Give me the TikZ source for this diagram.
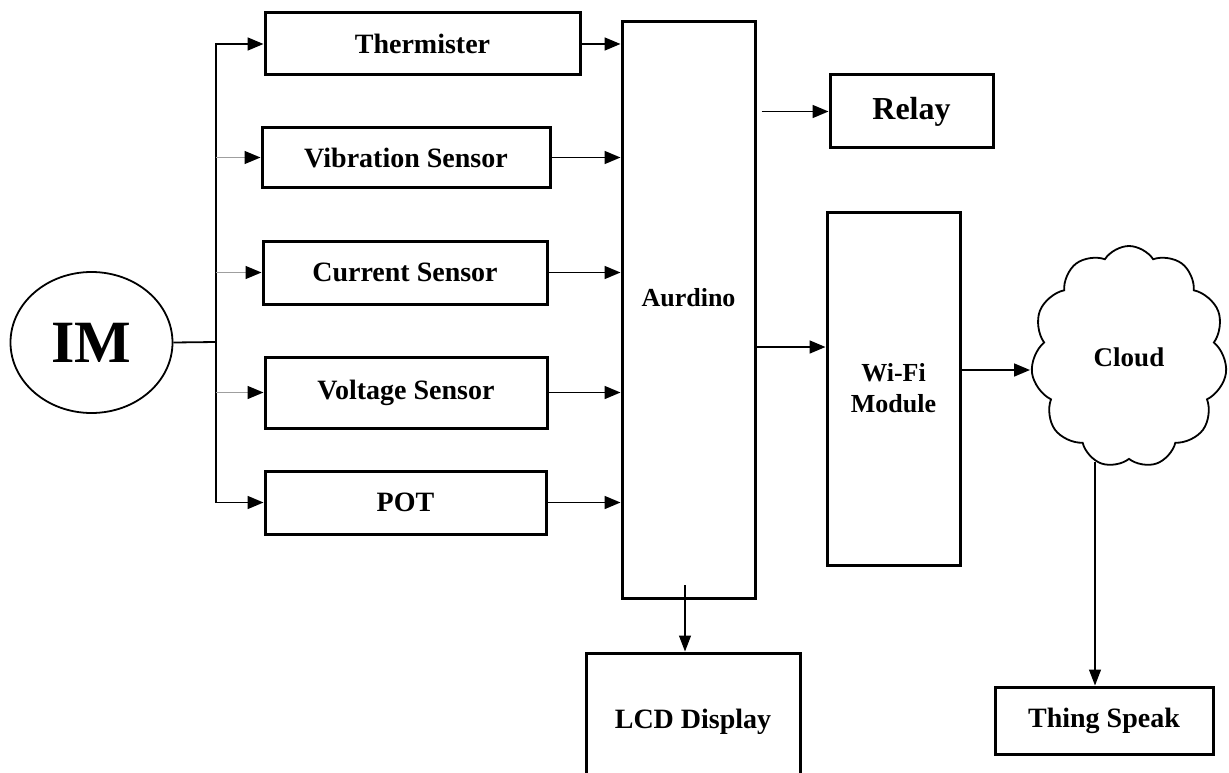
\documentclass[tikz,border=0pt]{standalone}
\usepackage{fontspec}
\setmainfont{Liberation Serif}
\usetikzlibrary{arrows.meta,shapes.symbols,shapes.geometric}
\tikzset{
    blk/.style={draw, line width=3pt, align=center, inner sep=0pt,
        font=\bfseries\fontsize{28}{31}\selectfont},
    arr/.style={-{Triangle[length=16pt,width=13pt]}, line width=1.7pt},
    thinarr/.style={-{Triangle[length=16pt,width=12pt]}, line width=1.2pt},
    branch/.style={-{Triangle[length=16pt,width=13pt,color=black]}, color=gray!75, line width=1.4pt},
}
\begin{document}
\begin{tikzpicture}[x=1pt,y=-1pt]
    \useasboundingbox (0,0) rectangle (1229,773);
    \clip (0,0) rectangle (1229,773);
    % motor
    \node[draw, ellipse, line width=1.8pt, minimum width=162pt, minimum height=141pt,
        font=\bfseries\fontsize{60}{62}\selectfont] (im) at (91.5,342.5) {IM};
    \coordinate (split) at (216,342);
    % sensors
    \node[blk, minimum width=315pt, minimum height=62pt] (therm) at (422.5,44) {Thermister};
    \node[blk, minimum width=288pt, minimum height=59pt] (vib) at (406,157.5) {Vibration Sensor};
    \node[blk, minimum width=284pt, minimum height=63pt] (curr) at (405,272.5) {Current Sensor};
    \node[blk, minimum width=282pt, minimum height=71pt] (volt) at (406,392.5) {Voltage Sensor};
    \node[blk, minimum width=281pt, minimum height=63pt] (pot) at (405.5,502.5) {POT};
    % controller and outputs
    \node[blk, minimum width=133pt, minimum height=576pt, text depth=26pt,
        font=\bfseries\fontsize{26}{30}\selectfont] (aurd) at (688.5,310) {Aurdino};
    \node[blk, minimum width=163pt, minimum height=73pt, font=\bfseries\fontsize{32}{35}\selectfont] (relay) at (911.5,111.5) {Relay};
    \node[blk, minimum width=133pt, minimum height=353pt, font=\bfseries\fontsize{26}{31}\selectfont] (wifi) at (893.5,388.5) {Wi-Fi\\Module};
    \node[blk, minimum width=214pt, minimum height=137pt] (lcd) at (693,721.5) {LCD Display};
    \node[draw, cloud, cloud puffs=11, cloud puff arc=115, cloud ignores aspect,
        line width=1.8pt, minimum width=196pt, minimum height=222pt,
        font=\bfseries\fontsize{27}{30}\selectfont] (cloud) at (1129,357) {Cloud};
    \node[blk, minimum width=218pt, minimum height=67pt] (thing) at (1104,720.5) {Thing Speak};
    % motor to sensors
    \draw[line width=1.8pt] (im.east) -- (split);
    \draw[arr] (split) |- (therm.west);
    \draw[arr] (split) |- (pot.west);
    \foreach \s in {vib,curr,volt}
        \draw[branch] (split |- \s.west) -- (\s.west);
    % sensors to controller
    \foreach \s in {therm,vib,curr,volt,pot}
        \draw[arr] (\s.east) -- (\s.east -| aurd.west);
    \draw[arr] ([xshift=5pt]aurd.east |- relay.west) -- (relay.west);
    \coordinate (wifiin) at (755,347);
    \draw[arr] (wifiin) -- (wifiin -| wifi.west);
    \coordinate (cloudin) at (960,370);
    \draw[arr] (cloudin) -- (1030,370);
    \coordinate (lcdin) at (685,585);
    \draw[thinarr] (lcdin) -- (lcdin |- lcd.north);
    \coordinate (cloudout) at (1095,462);
    \draw[thinarr] (cloudout) -- (cloudout |- thing.north);
\end{tikzpicture}
\end{document}
